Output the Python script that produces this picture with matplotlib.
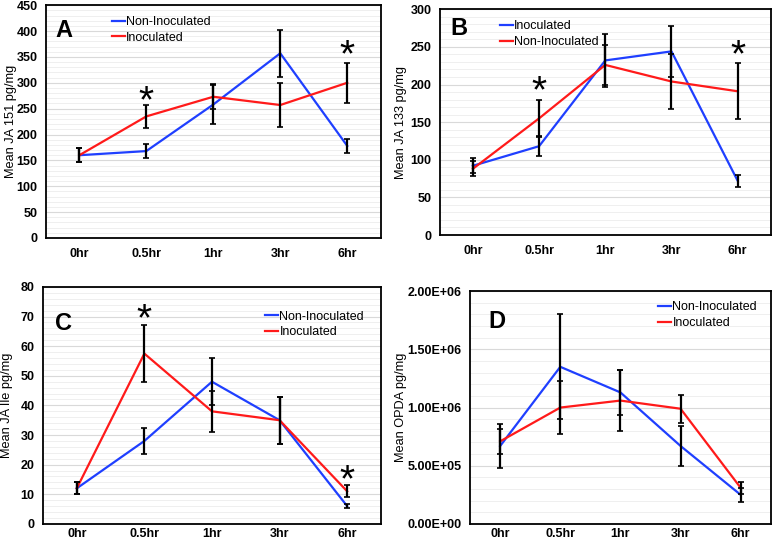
import matplotlib.pyplot as plt
import numpy as np
from matplotlib.ticker import MultipleLocator, FuncFormatter

plt.rcParams['font.family'] = ['Liberation Sans', 'DejaVu Sans']

times = ['0hr', '0.5hr', '1hr', '3hr', '6hr']

# Panel A: JA 151
a_non = [160, 168, 258, 357, 178]
a_non_err = [14, 14, 38, 45, 14]
a_ino = [160, 235, 273, 257, 300]
a_ino_err = [14, 23, 24, 43, 39]
a_stars = [(1, 282), (4, 369)]

# Panel B: JA 133 (legend order as in source: blue = Inoculated)
b_blue = [92, 118, 232, 244, 72]
b_blue_err = [10, 13, 35, 34, 8]
b_red = [88, 155, 226, 204, 191]
b_red_err = [10, 25, 27, 36, 37]
b_stars = [(1, 202), (4, 250)]

# Panel C: JA Ile
c_non = [12, 28, 48, 35, 6]
c_non_err = [2, 4.3, 8, 8, 0.7]
c_ino = [12, 57.5, 38, 35, 11]
c_ino_err = [2, 9.5, 7, 8, 2]
c_stars = [(1, 72), (4, 17.5)]

# Panel D: OPDA
d_non = [6.7e5, 1.35e6, 1.13e6, 6.7e5, 2.5e5]
d_non_err = [1.9e5, 4.5e5, 1.9e5, 1.7e5, 0.6e5]
d_ino = [7.1e5, 1.0e6, 1.06e6, 9.9e5, 3.1e5]
d_ino_err = [1.1e5, 2.3e5, 2.6e5, 1.2e5, 0.5e5]

fig = plt.figure(figsize=(7.77, 5.44), dpi=100)


def sci(v, p):
    if v <= 0:
        return '0.00E+00'
    e = int(np.floor(np.log10(v)))
    return '%.2fE+%02d' % (v / 10 ** e, e)


def panel(rect, blue, blue_err, blue_lbl, red, red_err, red_lbl,
          ymax, major, minor, ylabel, label_x, letter, stars, leg_xy, letter_xy,
          fmt=None, xpad=7):
    ax = fig.add_axes(rect)
    x = np.arange(len(times))
    ax.plot(x, blue, color='#1f3fff', lw=1.6, label=blue_lbl, zorder=3)
    ax.plot(x, red, color='#ff1a1a', lw=1.6, label=red_lbl, zorder=3)
    ax.errorbar(x, blue, yerr=blue_err, fmt='none', ecolor='black',
                elinewidth=1.6, capsize=2, capthick=1.2, zorder=4)
    ax.errorbar(x, red, yerr=red_err, fmt='none', ecolor='black',
                elinewidth=1.6, capsize=2, capthick=1.2, zorder=4)
    ax.set_xlim(-0.5, len(times) - 0.5)
    ax.set_ylim(0, ymax)
    ax.set_xticks(x)
    ax.set_xticklabels(times, fontsize=9, fontweight='bold')
    ax.tick_params(axis='x', length=0, pad=xpad)
    ax.tick_params(axis='y', length=0, labelsize=9, pad=6)
    ax.yaxis.set_major_locator(MultipleLocator(major))
    ax.yaxis.set_minor_locator(MultipleLocator(minor))
    if fmt:
        ax.yaxis.set_major_formatter(FuncFormatter(fmt))
    for t in ax.get_yticklabels():
        t.set_fontweight('bold')
    ax.tick_params(axis='y', which='minor', length=0)
    ax.grid(axis='y', which='major', color='#d9d9d9', lw=0.8)
    ax.grid(axis='y', which='minor', color='#ececec', lw=0.6)
    ax.set_axisbelow(True)
    for s in ax.spines.values():
        s.set_linewidth(1.3)
    ax.set_ylabel(ylabel, fontsize=9.2)
    ax.yaxis.set_label_coords(label_x, 0.5)
    ax.text(*letter_xy, letter, transform=ax.transAxes, fontsize=17,
            fontweight='bold', va='center', ha='left')
    for xi, yv in stars:
        ax.annotate('*', (xi, yv), xytext=(0, -7), textcoords='offset points',
                    fontsize=28, ha='center', va='center')
    ax.legend(loc='upper left', bbox_to_anchor=leg_xy, frameon=False,
              fontsize=9, handlelength=1.05, handletextpad=0.1,
              labelspacing=0.3, borderaxespad=0, borderpad=0)
    return ax


panel([0.059, 0.5625, 0.431, 0.428], a_non, a_non_err, 'Non-Inoculated',
      a_ino, a_ino_err, 'Inoculated', 450, 50, 10, 'Mean JA 151 pg/mg', -0.087,
      'A', a_stars, (0.197, 0.953), (0.03, 0.893))

panel([0.566, 0.568, 0.426, 0.415], b_blue, b_blue_err, 'Inoculated',
      b_red, b_red_err, 'Non-Inoculated', 300, 50, 10, 'Mean JA 133 pg/mg', -0.10,
      'B', b_stars, (0.181, 0.951), (0.033, 0.916))

panel([0.0553, 0.037, 0.435, 0.4355], c_non, c_non_err, 'Non-Inoculated',
      c_ino, c_ino_err, 'Inoculated', 80, 10, 2, 'Mean JA Ile pg/mg', -0.089,
      'C', c_stars, (0.657, 0.90), (0.036, 0.845), xpad=3)

panel([0.605, 0.0368, 0.387, 0.428], d_non, d_non_err, 'Non-Inoculated',
      d_ino, d_ino_err, 'Inoculated', 2.0e6, 5e5, 1e5, 'Mean OPDA pg/mg', -0.209,
      'D', [], (0.625, 0.957), (0.06, 0.871), fmt=sci, xpad=3)

plt.savefig('out.png', dpi=100)
plt.close(fig)
